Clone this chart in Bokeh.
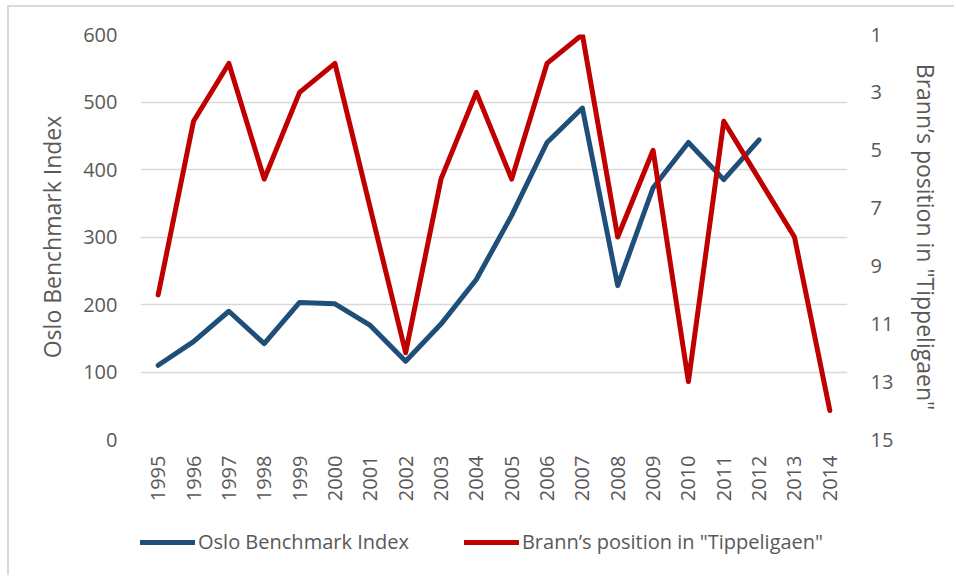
import math
from bokeh.plotting import figure
from bokeh.models import Range1d, LinearAxis, FixedTicker, Legend, LegendItem
from bokeh.layouts import column
from bokeh.embed import file_html
from bokeh.resources import INLINE

years = [str(y) for y in range(1995, 2015)]
osbx_years = years[:18]
osbx_values = [110, 145, 190, 142, 203, 201, 169, 116, 171, 237, 332, 440, 491, 228, 373, 440, 385, 444]
brann_positions = [10, 4, 2, 6, 3, 2, 7, 12, 6, 3, 6, 2, 1, 8, 5, 13, 4, 6, 8, 14]
left_ticks = [0, 100, 200, 300, 400, 500, 600]
right_ticks = [1, 3, 5, 7, 9, 11, 13, 15]
series_names = ["Oslo Benchmark Index", "Brann\u2019s position in \"Tippeligaen\""]

FONT = "Open Sans"
GRAY = "#595959"
BLUE = "#1F4E79"
RED = "#C00000"

p = figure(x_range=years, y_range=Range1d(0, 600), width=945, height=507,
           output_backend="svg", toolbar_location=None,
           min_border_left=131, min_border_right=107, min_border_top=27, min_border_bottom=75)
p.outline_line_color = None
p.background_fill_color = "white"
p.border_fill_color = "white"

p.extra_y_ranges = {"pos": Range1d(15, 1)}

# grid
p.xgrid.grid_line_color = None
p.ygrid.grid_line_color = "#d9d9d9"
p.ygrid.grid_line_width = 1.5
p.ygrid.ticker = FixedTicker(ticks=left_ticks)

def style_axis(ax):
    ax.axis_line_color = None
    ax.major_tick_line_color = None
    ax.minor_tick_line_color = None
    ax.major_tick_out = 0
    ax.major_tick_in = 0
    ax.major_label_text_font = FONT
    ax.major_label_text_font_size = "20px"
    ax.major_label_text_color = GRAY
    ax.axis_label_text_font = FONT
    ax.axis_label_text_font_size = "23px"
    ax.axis_label_text_color = GRAY
    ax.axis_label_text_font_style = "normal"

# left axis
p.yaxis.ticker = FixedTicker(ticks=left_ticks)
style_axis(p.yaxis[0])
p.yaxis.axis_label = series_names[0]
p.yaxis.major_label_standoff = 23
p.yaxis.axis_label_standoff = 12

# x axis
style_axis(p.xaxis[0])
p.xaxis.major_label_orientation = math.pi / 2
p.xaxis.major_label_standoff = 16

# right axis
raxis = LinearAxis(y_range_name="pos", ticker=FixedTicker(ticks=right_ticks),
                   axis_label=series_names[1])
style_axis(raxis)
raxis.major_label_standoff = 23
raxis.axis_label_standoff = 14
p.add_layout(raxis, "right")

p.line(osbx_years, osbx_values, line_color=BLUE, line_width=5,
       line_join="round", line_cap="round")
p.line(years, brann_positions, y_range_name="pos", line_color=RED, line_width=5,
       line_join="round", line_cap="round")

# legend strip below the chart (its sample lines lie outside the visible range)
lg = figure(width=945, height=61, x_range=Range1d(0, 1), y_range=Range1d(0, 1),
            x_axis_type=None, y_axis_type=None, output_backend="svg", toolbar_location=None,
            min_border_left=0, min_border_right=0, min_border_top=0, min_border_bottom=0)
lg.outline_line_color = None
lg.xgrid.grid_line_color = None
lg.ygrid.grid_line_color = None
d_blue = lg.line(x=[-10, -9], y=[-10, -9], line_color=BLUE, line_width=5, line_cap="round")
d_red = lg.line(x=[-10, -9], y=[-10, -9], line_color=RED, line_width=5, line_cap="round")

legend = Legend(items=[LegendItem(label=series_names[0], renderers=[d_blue]),
                       LegendItem(label=series_names[1], renderers=[d_red])],
                location=(0, 20), orientation="horizontal")
legend.background_fill_alpha = 0
legend.border_line_color = None
legend.padding = 0
legend.margin = 0
legend.spacing = 55
legend.glyph_width = 55
legend.glyph_height = 22
legend.label_standoff = 3
legend.label_text_font = FONT
legend.label_text_font_size = "20px"
legend.label_text_color = GRAY
lg.add_layout(legend, "center")

layout = column(p, lg, spacing=0)
layout.styles = {"border-left": "2px solid #d9d9d9", "border-top": "2px solid #d9d9d9",
                 "margin-left": "7px", "margin-top": "5px"}

open("out.html", "w").write(file_html(layout, INLINE))
